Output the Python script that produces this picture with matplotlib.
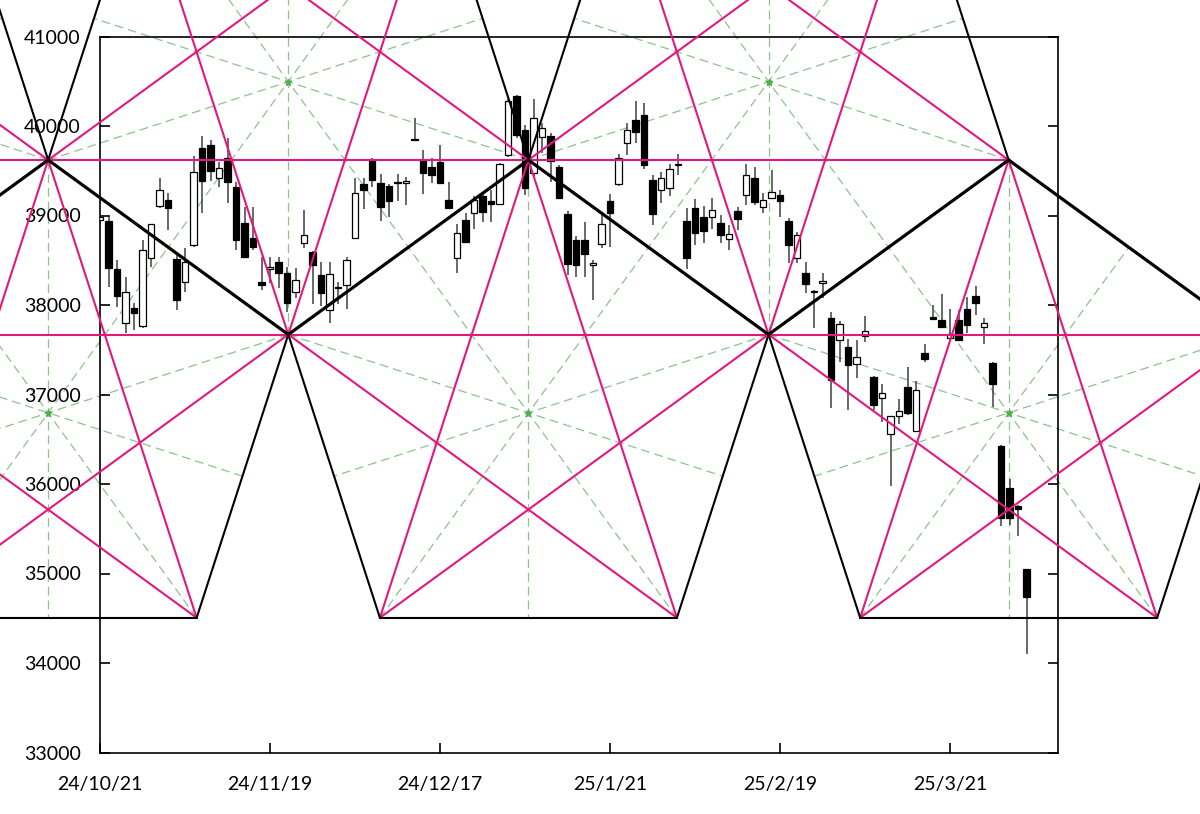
import numpy as np
import matplotlib
matplotlib.use("Agg")
import matplotlib.pyplot as plt

plt.rcParams['font.family'] = ['Lato', 'DejaVu Sans']

# daily candles 24/10/21 .. 25/4/3 (index = trading day)
opens = [38945, 38940, 38400, 37800, 37965, 37760, 38525, 39105, 39172, 38510,
         38260, 38670, 39750, 39790, 39415, 39645, 39320, 38920, 38750, 38260,
         38400, 38480, 38360, 38140, 38690, 38594, 38335, 37945, 38205, 38222,
         38745, 39350, 39620, 39365, 39330, 39360, 39365, 39840, 39620, 39545,
         39600, 39170, 38520, 38948, 39030, 39215, 39160, 39130, 39675, 40330,
         39955, 39470, 39875, 39890, 39545, 39015, 38725, 38730, 38450, 38680,
         39165, 39350, 39805, 40066, 40120, 39400, 39284, 39305, 39560, 38940,
         39080, 38978, 38980, 38920, 38740, 39050, 39230, 39415, 39095, 39190,
         39228, 38940, 38520, 38360, 38150, 38250, 37855, 37607, 37532, 37345,
         37655, 37200, 36966, 36560, 36760, 37080, 36595, 37460, 37860, 37830,
         37630, 37830, 37950, 38100, 37750, 37350, 36430, 35950, 35755, 35045]
highs = [39010, 38980, 38500, 38310, 38025, 38725, 38910, 39415, 39250, 38560,
         38640, 39660, 39885, 39845, 39600, 39865, 39375, 39100, 39100, 38540,
         38540, 38540, 38430, 38415, 39060, 38600, 38480, 38480, 38260, 38540,
         39420, 39415, 39640, 39465, 39350, 39465, 39430, 40090, 39730, 39640,
         39790, 39376, 38910, 39030, 39215, 39250, 39285, 39590, 40300, 40350,
         40010, 40300, 40030, 39920, 39560, 39055, 38775, 38930, 38505, 39025,
         39240, 39690, 40030, 40280, 40255, 39455, 39490, 39575, 39690, 39080,
         39180, 39105, 39190, 39005, 38895, 39100, 39575, 39545, 39250, 39505,
         39290, 38970, 38820, 38485, 38170, 38360, 37925, 37825, 37615, 37610,
         37875, 37210, 37115, 36760, 36955, 37310, 37150, 37560, 37995, 38125,
         37960, 37940, 38090, 38210, 37860, 37360, 36440, 36060, 35765, 35050]
lows = [38930, 38200, 37980, 37690, 37720, 37740, 38420, 39080, 38840, 37945,
        38150, 38650, 39030, 39380, 39320, 39140, 38610, 38530, 38620, 38165,
        38250, 38185, 37925, 38075, 38640, 38015, 37985, 37795, 38015, 37960,
        38740, 39070, 39320, 38940, 38980, 39165, 39120, 39835, 39240, 39366,
        39360, 39075, 38355, 38690, 38845, 38930, 38930, 39120, 39650, 39870,
        39230, 39440, 39695, 39375, 39180, 38335, 38310, 38310, 38060, 38640,
        38650, 39330, 39675, 39805, 39525, 38895, 39135, 39220, 39450, 38400,
        38670, 38690, 38845, 38690, 38615, 38840, 39115, 39115, 39025, 39180,
        38985, 38465, 38465, 38130, 37740, 38075, 36845, 37365, 36825, 37180,
        37590, 36830, 36695, 35980, 36670, 36775, 36590, 37365, 37838, 37740,
        37620, 37600, 37690, 37885, 37560, 36865, 35530, 35540, 35415, 34100]
closes = [38985, 38410, 38105, 38140, 37915, 38610, 38905, 39285, 39080, 38055,
          38475, 39485, 39380, 39500, 39535, 39378, 38725, 38538, 38643, 38218,
          38420, 38352, 38026, 38280, 38780, 38445, 38130, 38350, 38185, 38500,
          39250, 39280, 39398, 39091, 39162, 39368, 39372, 39849, 39470, 39455,
          39365, 39082, 38810, 38700, 39170, 39035, 39130, 39570, 40275, 39895,
          39305, 40085, 39980, 39605, 39190, 38460, 38445, 38572, 38452, 38902,
          39025, 39645, 39960, 39932, 39566, 39017, 39414, 39515, 39572, 38520,
          38800, 38831, 39066, 38787, 38795, 38964, 39455, 39150, 39178, 39268,
          39165, 38672, 38780, 38240, 38140, 38256, 37160, 37790, 37330, 37418,
          37705, 36887, 37020, 36755, 36820, 36790, 37055, 37395, 37845, 37752,
          37677, 37608, 37780, 38027, 37800, 37120, 35617, 35624, 35726, 34735]

tick_pos = [0, 20, 40, 60, 80, 100]
tick_labels = ["24/10/21", "24/11/19", "24/12/17", "25/1/21", "25/2/19", "25/3/21"]

# pentagon pattern
up_apex_x = [-6.1, 50.4, 106.9]        # upright pentagons, top vertex
down_apex_x = [-34.35, 22.15, 78.65]   # inverted pentagons, bottom vertex
levels = [34505, 37670, 39620, 42785]  # vertex rows (price)
half_w = [17.47, 28.25]                # half spread of the short / wide vertex pairs


def upright(xc):
    return [(xc, levels[2]), (xc + half_w[1], levels[1]), (xc + half_w[0], levels[0]),
            (xc - half_w[0], levels[0]), (xc - half_w[1], levels[1])]


def inverted(xc):
    return [(xc, levels[1]), (xc + half_w[1], levels[2]), (xc + half_w[0], levels[3]),
            (xc - half_w[0], levels[3]), (xc - half_w[1], levels[2])]


fig = plt.figure(figsize=(12, 8.14), dpi=100)
ax = fig.add_axes([100 / 1200, 61.5 / 814, 958 / 1200, 716 / 814])

PINK = '#e2187f'
GREEN = '#8cc48c'


def seg(a, b, **kw):
    ax.plot([a[0], b[0]], [a[1], b[1]], clip_on=False, solid_capstyle='round', **kw)


def draw_pentagon(v, thick_edges):
    for i in range(5):
        m = ((v[(i + 2) % 5][0] + v[(i + 3) % 5][0]) / 2, (v[(i + 2) % 5][1] + v[(i + 3) % 5][1]) / 2)
        ax.plot([v[i][0], m[0]], [v[i][1], m[1]], color=GREEN, lw=0.9,
                dashes=(7, 4), clip_on=False, zorder=1)
    cx = np.mean([p[0] for p in v])
    cy = np.mean([p[1] for p in v])
    ax.plot(cx, cy, marker='*', ms=5, color='#4caf50', clip_on=False, zorder=1)
    for i in range(5):
        seg(v[i], v[(i + 2) % 5], color=PINK, lw=1.5, zorder=4)


for xc in up_apex_x:
    v = upright(xc)
    draw_pentagon(v, True)
    for i in range(5):
        lw = 2.3 if i in (0, 4) else 1.5
        seg(v[i], v[(i + 1) % 5], color='black', lw=lw, zorder=5)

for xc in down_apex_x:
    v = inverted(xc)
    draw_pentagon(v, False)
    for i in (1, 2, 3):
        seg(v[i], v[i + 1], color='black', lw=1.5, zorder=5)

# candles
x = np.arange(len(closes))
o = np.array(opens)
c = np.array(closes)
body_lo = np.minimum(o, c)
body_h = np.maximum(np.abs(c - o), 18)
face = ['white' if cc >= oo else 'black' for oo, cc in zip(o, c)]
ax.vlines(x, lows, highs, color='#404040', lw=1.1, zorder=2)
ax.bar(x, body_h, bottom=body_lo, width=0.76, color=face, edgecolor='black',
       linewidth=0.9, zorder=3)

ax.set_xlim(0, 958 / 8.5)
ax.set_ylim(33000, 41000)
ax.set_yticks(range(33000, 41001, 1000))
ax.set_xticks(tick_pos)
ax.set_xticklabels(tick_labels)
ax.tick_params(axis='y', direction='in', length=7, width=1.2, right=True, pad=14,
               labelsize=14)
ax.tick_params(axis='x', direction='in', length=7, width=1.2, pad=17, labelsize=14)
for s in ax.spines.values():
    s.set_linewidth(1.2)
    s.set_color('black')

fig.savefig('out.png', dpi=100)
